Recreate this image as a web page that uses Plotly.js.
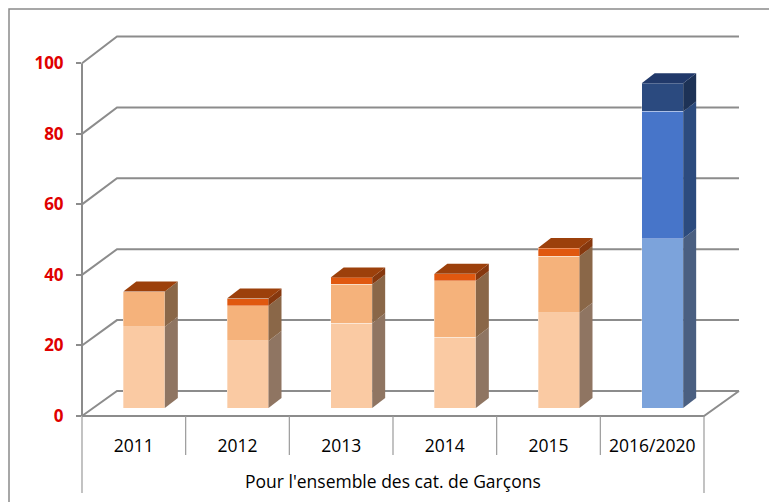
<!DOCTYPE html>
<html><head><meta charset="utf-8">
<script src="https://cdn.plot.ly/plotly-3.0.1.min.js"></script>
<style>html,body{margin:0;padding:0;background:#fff}#chart{width:769px;height:502px}</style>
</head><body><div id="chart"></div>
<script>
// ---------- data ----------
const categories = ['2011', '2012', '2013', '2014', '2015', '2016/2020'];
const groupLabel = "Pour l'ensemble des cat. de Garçons";
const seriesLow = [23, 19, 24, 20, 27, 48];
const seriesMid = [10, 10, 11, 16, 16, 36];
const seriesTop = [0, 2, 2, 2, 2.3, 8];
const projected = [false, false, false, false, false, true];
const yTicks = [0, 20, 40, 60, 80, 100];

// ---------- styles ----------
const orangeFront = ['#FACAA3', '#F5B27B', '#E0580F'];
const orangeSide = ['#8F7562', '#8A6748', '#86380E'];
const orangeTopFace = '#9C400B';
const blueFront = ['#7CA3DB', '#4775C9', '#2B4A7F'];
const blueSide = ['#4A5F81', '#2C4B7E', '#1D3256'];
const blueTopFace = '#21396A';
const lineGray = '#8C8C8C';
const FONT = 'Open Sans, Noto Sans, sans-serif';

// ---------- geometry (pixels) ----------
const W = 769, H = 502, L = 82, R = 65, T = 30, B = 86;
const pw = W - L - R, ph = H - T - B;
const bottomPx = H - B;
const front = {zeroPx: 416, pxPerUnit: 3.527};
const bar = {dxPx: 10.25, zeroPx: 408, pxPerUnit: 3.53};
const back = {dxPx: 35, zeroPx: 391, pxPerUnit: 3.545};
const depth = {dxPx: 13, dyPx: 10};
const barWidthPx = 41.5;
const n = categories.length;
const catPx = pw / n;

const px = x => (x - L) / pw;
const py = y => (bottomPx - y) / ph;
const Yf = v => front.zeroPx - front.pxPerUnit * v;
const Yb = v => back.zeroPx - back.pxPerUnit * v;

const series = [seriesLow, seriesMid, seriesTop];
const idx = categories.map((c, i) => i);
const totals = idx.map(i => series.reduce((s, a) => s + a[i], 0));

const bw = barWidthPx / catPx;
const hw = bw / 2;
const ddx = depth.dxPx / catPx;
const ddy = depth.dyPx / bar.pxPerUnit;

const traces = [];
// invisible trace establishing the category axis
traces.push({type: 'scatter', x: categories, y: totals, mode: 'markers',
  marker: {opacity: 0}, hoverinfo: 'skip', showlegend: false, xaxis: 'x', yaxis: 'y'});

// front faces (stacked bars)
series.forEach((vals, s) => {
  traces.push({type: 'bar', x: idx, y: vals, width: bw, xaxis: 'x2', yaxis: 'y2',
    marker: {color: idx.map(i => projected[i] ? blueFront[s] : orangeFront[s]),
      line: {width: 0.6, color: 'rgba(255,255,255,0.55)'}},
    hovertemplate: '%{y}<extra></extra>', showlegend: false});
});

// side faces
series.forEach((vals, s) => {
  idx.forEach(i => {
    const v = vals[i];
    if (!(v > 0)) return;
    let base = 0;
    for (let k = 0; k < s; k++) base += series[k][i];
    const top = base + v;
    const xr = i + hw;
    traces.push({type: 'scatter', xaxis: 'x2', yaxis: 'y2', mode: 'lines',
      x: [xr, xr + ddx, xr + ddx, xr, xr], y: [base, base + ddy, top + ddy, top, base],
      fill: 'toself', fillcolor: projected[i] ? blueSide[s] : orangeSide[s],
      line: {width: 0}, hoverinfo: 'skip', showlegend: false});
  });
});

// top faces
idx.forEach(i => {
  const t = totals[i];
  traces.push({type: 'scatter', xaxis: 'x2', yaxis: 'y2', mode: 'lines',
    x: [i - hw, i - hw + ddx, i + hw + ddx, i + hw, i - hw],
    y: [t, t + ddy, t + ddy, t, t],
    fill: 'toself', fillcolor: projected[i] ? blueTopFace : orangeTopFace,
    line: {width: 0}, hoverinfo: 'skip', showlegend: false});
});

// ---------- frame shapes ----------
const shapes = [];
const line = (pts, color, width) => ({type: 'path', xref: 'paper', yref: 'paper', layer: 'below',
  path: pts.map((p, k) => (k ? 'L' : 'M') + px(p[0]).toFixed(5) + ',' + py(p[1]).toFixed(5)).join(' '),
  line: {color: color, width: width}});
const backRight = L + pw + back.dxPx;
yTicks.forEach(v => {
  shapes.push(line([[L, Yf(v)], [L + back.dxPx, Yb(v)], [backRight, Yb(v)]], lineGray, 2));
});
// left axis line
shapes.push(line([[L, Yf(0)], [L, Yf(yTicks[yTicks.length - 1])]], lineGray, 2));
// floor front edge and right edge
shapes.push(line([[L, Yf(0)], [L + pw, Yf(0)], [backRight, Yb(0)]], lineGray, 2));
// category dividers
for (let k = 0; k <= n; k++) {
  const outer = (k === 0 || k === n);
  shapes.push(line([[L + k * catPx, Yf(0)], [L + k * catPx, outer ? 493 : 455]], '#9A9A9A', 1.2));
}
// chart border
shapes.push(line([[9, H + 5], [9, 9], [W + 5, 9]], '#8A8A8A', 1.5));

const layout = {
  width: W, height: H,
  margin: {l: L, r: R, t: T, b: B, pad: 0},
  paper_bgcolor: '#fff', plot_bgcolor: 'rgba(0,0,0,0)',
  barmode: 'stack', showlegend: false,
  font: {family: FONT},
  xaxis: {type: 'category', range: [-0.5, n - 0.5], showgrid: false, zeroline: false,
    showline: false, ticks: '', tickfont: {family: FONT, size: 17.5, color: '#000'},
    ticklabelstandoff: 17, fixedrange: true},
  yaxis: {range: [0, ph / front.pxPerUnit], tickvals: yTicks, ticks: 'outside', ticklen: 5,
    tickcolor: lineGray, tickwidth: 2, showgrid: false, zeroline: false, showline: false,
    tickfont: {family: FONT, size: 17, color: '#E00000', weight: 'bold'},
    ticklabelstandoff: 9, fixedrange: true},
  xaxis2: {overlaying: 'x', anchor: 'y2', visible: false,
    range: [-0.5 - bar.dxPx / catPx, n - 0.5 - bar.dxPx / catPx], fixedrange: true},
  yaxis2: {overlaying: 'y', anchor: 'x2', visible: false,
    range: [-(bottomPx - bar.zeroPx) / bar.pxPerUnit, (bar.zeroPx - T) / bar.pxPerUnit], fixedrange: true},
  shapes: shapes,
  annotations: [{text: groupLabel, xref: 'paper', yref: 'paper', x: 0.5, y: py(481),
    xanchor: 'center', yanchor: 'middle', showarrow: false,
    font: {family: FONT, size: 17.5, color: '#000'}}]
};

Plotly.newPlot('chart', traces, layout, {displayModeBar: false, staticPlot: true});
</script>
</body></html>
